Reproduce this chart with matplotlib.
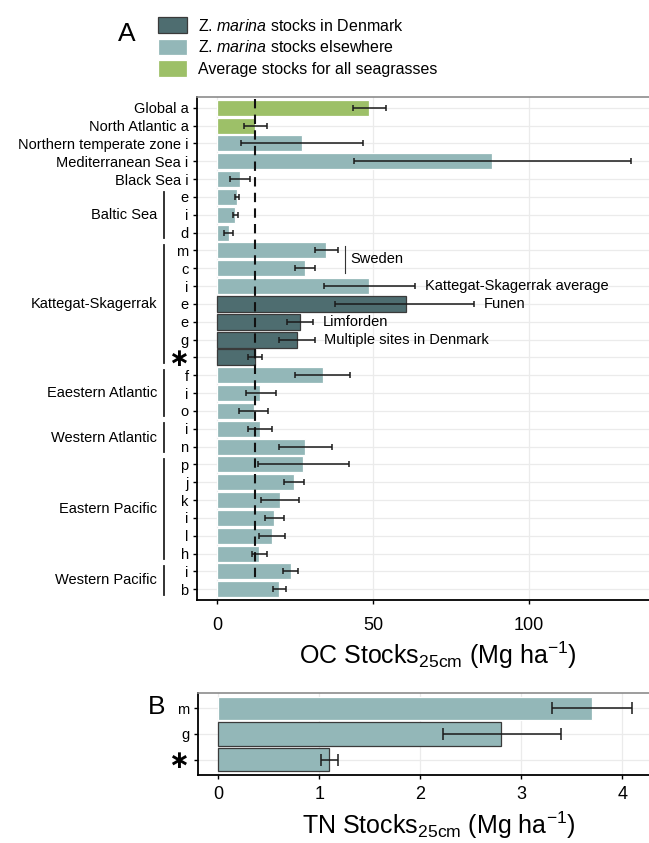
import itertools
import numpy as np
import matplotlib
matplotlib.use('Agg')
import matplotlib.pyplot as plt
from matplotlib.patches import Patch
from matplotlib.transforms import blended_transform_factory

plt.rcParams['font.family'] = ['Liberation Sans', 'DejaVu Sans']
plt.rcParams['mathtext.fontset'] = 'custom'
plt.rcParams['mathtext.rm'] = 'Liberation Sans'
plt.rcParams['mathtext.it'] = 'Liberation Sans:italic'

# OC stocks (top 25 cm), one row per study, top to bottom
region = ['Global', 'North Atlantic', 'Northern temperate zone', 'Mediterranean Sea', 'Black Sea',
          'Baltic Sea', 'Baltic Sea', 'Baltic Sea',
          'Kattegat-Skagerrak', 'Kattegat-Skagerrak', 'Kattegat-Skagerrak', 'Kattegat-Skagerrak',
          'Kattegat-Skagerrak', 'Kattegat-Skagerrak', 'Kattegat-Skagerrak',
          'Eaestern Atlantic', 'Eaestern Atlantic', 'Eaestern Atlantic',
          'Western Atlantic', 'Western Atlantic',
          'Eastern Pacific', 'Eastern Pacific', 'Eastern Pacific', 'Eastern Pacific',
          'Eastern Pacific', 'Eastern Pacific',
          'Western Pacific', 'Western Pacific']
ref = ['a', 'a', 'i', 'i', 'i', 'e', 'i', 'd', 'm', 'c', 'i', 'e', 'e', 'g', '*',
       'f', 'i', 'o', 'i', 'n', 'p', 'j', 'k', 'i', 'l', 'h', 'i', 'b']
kind = ['avg', 'avg', 'other', 'other', 'other', 'other', 'other', 'other', 'other', 'other',
        'other', 'dk', 'dk', 'dk', 'dk', 'other', 'other', 'other', 'other', 'other',
        'other', 'other', 'other', 'other', 'other', 'other', 'other', 'other']
oc_stock = [48.8, 12.1, 27.4, 88.1, 7.4, 6.5, 5.9, 3.8, 34.9, 28.1, 48.8, 60.5, 26.6, 25.5,
            12.3, 33.9, 13.9, 11.8, 13.7, 28.3, 27.7, 24.7, 20.2, 18.3, 17.5, 13.5, 23.6, 20.0]
oc_low = [43.7, 8.8, 7.8, 43.9, 4.3, 5.9, 5.0, 2.4, 31.3, 25.1, 34.2, 37.9, 22.3, 19.8,
          9.9, 25.0, 9.2, 7.1, 9.9, 20.0, 13.0, 21.5, 14.2, 15.3, 13.4, 11.3, 21.2, 18.0]
oc_high = [54.1, 16.0, 46.9, 132.6, 10.7, 7.1, 6.8, 5.2, 38.7, 31.3, 63.6, 82.4, 30.9, 31.3,
           14.3, 42.8, 18.8, 16.5, 17.5, 36.8, 42.4, 27.9, 26.2, 21.4, 21.9, 15.9, 26.1, 22.0]
site_notes = {10: 'Kattegat-Skagerrak average', 11: 'Funen', 12: 'Limforden',
              13: 'Multiple sites in Denmark'}
sweden_rows = [8, 9]
this_study = 14

# TN stocks
tn_ref = ['m', 'g', '*']
tn_stock = [3.70, 2.80, 1.10]
tn_low = [3.30, 2.22, 1.02]
tn_high = [4.09, 3.39, 1.19]
tn_kind = ['other', 'dk', 'dk']

fill = {'dk': '#4e6d70', 'other': '#93b7b8', 'avg': '#9dc068'}
edge = {'dk': '#3a3a3a', 'other': 'white', 'avg': 'white'}
legend_text = {'dk': 'Z. $\\mathit{marina}$ stocks in Denmark',
               'other': 'Z. $\\mathit{marina}$ stocks elsewhere',
               'avg': 'Average stocks for all seagrasses'}

W, H = 649, 843
fig = plt.figure(figsize=(W / 100, H / 100), dpi=100)


def box(l, t, r, b):
    return [l / W, 1 - b / H, (r - l) / W, (b - t) / H]


ax = fig.add_axes(box(197, 97, 679, 600))
bx = fig.add_axes(box(198, 693, 679, 775))


def style(a):
    a.grid(True, color='#ebebeb', lw=0.9)
    a.set_axisbelow(True)
    for s in ['left', 'bottom']:
        a.spines[s].set_color('black')
        a.spines[s].set_linewidth(1.3)
    a.spines['top'].set_color('#8c8c8c')
    a.spines['top'].set_linewidth(1.2)
    a.spines['right'].set_visible(False)
    a.tick_params(axis='both', length=3, width=1.0, color='black')
    a.tick_params(axis='y', labelsize=10.5, pad=3)
    a.tick_params(axis='x', labelsize=13)


def star(a, trans, row, shift):
    # bold centred asterisk in place of the '*' tick label
    a.text(189 / W, row + shift, '\u2217', transform=trans, ha='right', va='center',
           fontsize=18, fontweight='bold', family='DejaVu Sans')


# ---- panel A ----
n = len(oc_stock)
y = np.arange(n)
oc = np.array(oc_stock)
ax.barh(y, oc, height=0.9, color=[fill[k] for k in kind],
        edgecolor=[edge[k] for k in kind], linewidth=0.9, zorder=2)
ax.errorbar(oc, y, xerr=[oc - np.array(oc_low), np.array(oc_high) - oc], fmt='none',
            ecolor='#1a1a1a', elinewidth=1.1, capsize=2.4, capthick=1.1, zorder=3)
ax.vlines(oc_stock[this_study], -0.5, n - 1.5, colors='#111111', lw=1.5,
          linestyles=(0, (4.5, 3)), zorder=4)

labels = []
for r, lt in zip(region, ref):
    single = region.count(r) == 1
    labels.append(f'{r} {lt}' if single else ('' if lt == '*' else lt))
ax.set_yticks(y, labels)
ax.set_ylim(n - 0.4, -0.6)
ax.set_xlim(-6.4, 148.1)
ax.set_xticks([0, 50, 100])
style(ax)
ax.tick_params(axis='x', pad=9)

tr = blended_transform_factory(fig.transFigure, ax.transData)
i = 0
for name, grp in itertools.groupby(region):
    k = len(list(grp))
    rows = list(range(i, i + k))
    i += k
    if k == 1:
        continue
    ax.plot([164 / W] * 2, [rows[0] - 0.3, rows[-1] + 0.3], transform=tr,
            color='#222222', lw=1.3, clip_on=False)
    ax.text(157 / W, np.mean(rows), name, transform=tr, ha='right', va='center',
            fontsize=10.5)

for r, lt in enumerate(ref):
    if lt == '*':
        star(ax, tr, r, 0.1)

for r, txt in site_notes.items():
    ax.text(oc_high[r] + 3, r, txt, ha='left', va='center', fontsize=10.5, zorder=5)
sx = max(oc_high[j] for j in sweden_rows) + 2.3
ax.plot([sx, sx], [sweden_rows[0] - 0.25, sweden_rows[-1] + 0.25], color='#333333', lw=0.8)
ax.text(sx + 1.8, np.mean(sweden_rows), 'Sweden', ha='left', va='center', fontsize=10.5)

ax.set_xlabel('OC Stocks$_{\\mathrm{25cm}}$ (Mg ha$^{\\mathrm{-1}}$)', fontsize=18, labelpad=4)

# ---- panel B ----
yb = np.arange(len(tn_stock))
tn = np.array(tn_stock)
bx.barh(yb, tn, height=0.9, color=fill['other'],
        edgecolor=['white' if k == 'other' else edge['dk'] for k in tn_kind],
        linewidth=0.9, zorder=2)
bx.errorbar(tn, yb, xerr=[tn - np.array(tn_low), np.array(tn_high) - tn], fmt='none',
            ecolor='#1a1a1a', elinewidth=1.1, capsize=4.3, capthick=1.1, zorder=3)
bx.set_yticks(yb, ['' if t == '*' else t for t in tn_ref])
bx.set_ylim(len(tn_stock) - 0.4, -0.6)
bx.set_xlim(-0.2, 4.56)
bx.set_xticks([0, 1, 2, 3, 4])
style(bx)
bx.tick_params(axis='x', pad=5)
trb = blended_transform_factory(fig.transFigure, bx.transData)
for r, lt in enumerate(tn_ref):
    if lt == '*':
        star(bx, trb, r, 0.05)
bx.set_xlabel('TN Stocks$_{\\mathrm{25cm}}$ (Mg ha$^{\\mathrm{-1}}$)', fontsize=18, labelpad=5)

# panel letters and legend
fig.text(127 / W, 1 - 34 / H, 'A', fontsize=19, ha='center', va='center')
fig.text(157 / W, 1 - 707 / H, 'B', fontsize=19, ha='center', va='center')

handles = [Patch(facecolor=fill[k], edgecolor=edge[k], linewidth=0.9, label=legend_text[k])
           for k in ['dk', 'other', 'avg']]
fig.legend(handles=handles, loc='upper left', bbox_to_anchor=(158 / W, 1 - 17 / H),
           frameon=False, fontsize=11.5, handlelength=1.8, handleheight=1.2,
           handletextpad=0.7, labelspacing=0.32, borderpad=0, borderaxespad=0)

fig.savefig('out.png', dpi=100)
